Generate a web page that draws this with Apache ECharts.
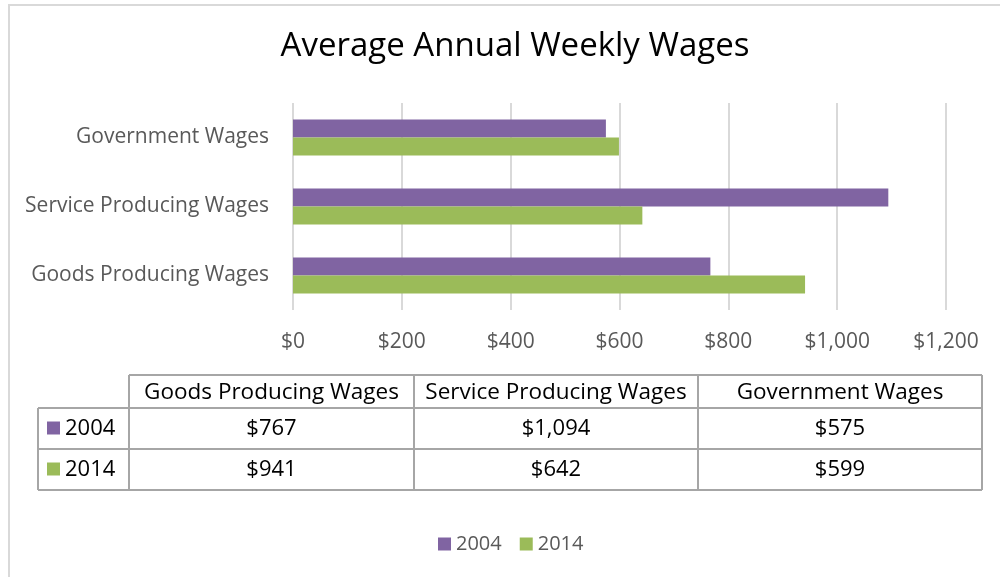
<!DOCTYPE html>
<html>
<head>
<meta charset="utf-8">
<script src="https://cdn.jsdelivr.net/npm/echarts@6/dist/echarts.min.js"></script>
<style>
  html, body { margin: 0; padding: 0; background: #fff; }
  #main { width: 1000px; height: 577px; }
</style>
</head>
<body>
<div id="main"></div>
<script>
// data
var categories = ['Goods Producing Wages', 'Service Producing Wages', 'Government Wages'];
var years = ['2004', '2014'];
var wages2004 = [767, 1094, 575];
var wages2014 = [941, 642, 599];
var colors = ['#8064A2', '#9BBB59'];

var FONT = 'Open Sans';

function money(v) {
    return '$' + String(v).replace(/\B(?=(\d{3})+(?!\d))/g, ',');
}

var myChart = echarts.init(document.getElementById('main'));

// data table under the chart (graphic elements)
var colX = [129, 414, 698, 982];
var rowY = [375, 408, 449, 490];
var rowLeft = 38;
var lineStyle = { stroke: '#a6a6a6', lineWidth: 2 };
var table = [];

function hline(x1, x2, y) {
    table.push({ type: 'line', shape: { x1: x1, y1: y, x2: x2, y2: y }, style: lineStyle });
}
function vline(x, y1, y2) {
    table.push({ type: 'line', shape: { x1: x, y1: y1, x2: x, y2: y2 }, style: lineStyle });
}

hline(colX[0], colX[3], rowY[0]);
hline(rowLeft, colX[3], rowY[1]);
hline(rowLeft, colX[3], rowY[2]);
hline(rowLeft, colX[3], rowY[3]);
vline(rowLeft, rowY[1], rowY[3]);
colX.forEach(function (x) { vline(x, rowY[0], rowY[3]); });

categories.forEach(function (c, i) {
    table.push({
        type: 'text',
        style: {
            text: c, x: (colX[i] + colX[i + 1]) / 2, y: (rowY[0] + rowY[1]) / 2 + 1,
            align: 'center', verticalAlign: 'middle',
            font: '22.5px ' + FONT, fill: '#000'
        }
    });
});

[wages2004, wages2014].forEach(function (vals, r) {
    var cy = (rowY[r + 1] + rowY[r + 2]) / 2;
    table.push({
        type: 'rect', shape: { x: 47, y: cy - 7, width: 13, height: 13 },
        style: { fill: colors[r] }
    });
    table.push({
        type: 'text',
        style: {
            text: years[r], x: 65, y: cy, align: 'left', verticalAlign: 'middle',
            font: '22px ' + FONT, fill: '#000'
        }
    });
    vals.forEach(function (v, i) {
        table.push({
            type: 'text',
            style: {
                text: money(v), x: (colX[i] + colX[i + 1]) / 2, y: cy,
                align: 'center', verticalAlign: 'middle',
                font: '22px ' + FONT, fill: '#000'
            }
        });
    });
});

// outer frame of the chart area
table.push({
    type: 'rect', shape: { x: 9, y: 5, width: 1000, height: 580 },
    style: { fill: null, stroke: '#d9d9d9', lineWidth: 2 }, z: -1
});

var option = {
    animation: false,
    textStyle: { fontFamily: FONT },
    title: {
        text: 'Average Annual Weekly Wages',
        left: 510,
        textAlign: 'center',
        top: 25,
        textStyle: { fontSize: 33, fontWeight: 'normal', color: '#000', fontFamily: FONT }
    },
    legend: {
        data: years,
        left: 433,
        top: 529,
        itemWidth: 13,
        itemHeight: 13,
        itemGap: 18,
        icon: 'rect',
        textStyle: { fontSize: 20, color: '#595959', fontFamily: FONT }
    },
    grid: {
        left: 293,
        right: 54,
        top: 103,
        height: 207,
        containLabel: false
    },
    xAxis: {
        type: 'value',
        min: 0,
        max: 1200,
        interval: 200,
        axisLine: { show: false },
        axisTick: { show: false },
        axisLabel: {
            margin: 22,
            fontSize: 21,
            color: '#595959',
            formatter: function (v) { return money(v); }
        },
        splitLine: { lineStyle: { color: '#d9d9d9', width: 2 } }
    },
    yAxis: {
        type: 'category',
        data: categories,
        axisLine: { show: false },
        axisTick: { show: false },
        axisLabel: { margin: 24, fontSize: 21, color: '#595959', padding: [5, 0, 0, 0] }
    },
    series: [
        {
            name: '2004',
            type: 'bar',
            data: wages2004,
            itemStyle: { color: colors[0] },
            barGap: '0%',
            barCategoryGap: '48%'
        },
        {
            name: '2014',
            type: 'bar',
            data: wages2014,
            itemStyle: { color: colors[1] },
            barGap: '0%',
            barCategoryGap: '48%'
        }
    ],
    graphic: table
};

myChart.setOption(option);
</script>
</body>
</html>
